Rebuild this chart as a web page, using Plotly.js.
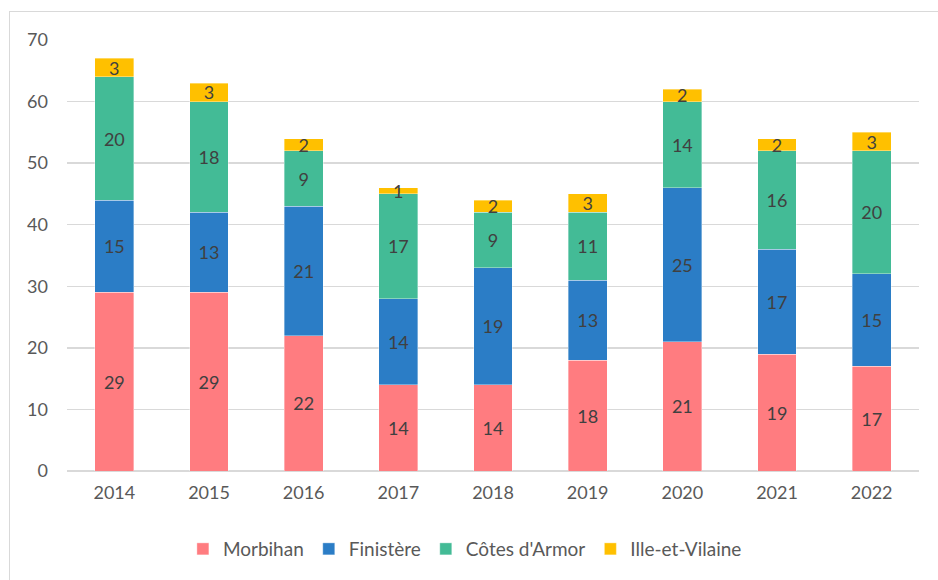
<!DOCTYPE html>
<html>
<head>
<meta charset="utf-8">
<script src="https://cdn.plot.ly/plotly-3.0.1.min.js"></script>
<style>
  html, body { margin: 0; padding: 0; background: #fff; }
  #frame { position: absolute; left: 9px; top: 11px; width: 940px; height: 590px; border: 1.5px solid #d9d9d9; box-sizing: border-box; }
  #chart { position: absolute; left: 0; top: 0; width: 938px; height: 580px; }
</style>
</head>
<body>
<div id="frame"></div>
<div id="chart"></div>
<script>
const years = ['2014', '2015', '2016', '2017', '2018', '2019', '2020', '2021', '2022'];
const morbihan = [29, 29, 22, 14, 14, 18, 21, 19, 17];
const finistere = [15, 13, 21, 14, 19, 13, 25, 17, 15];
const cotesArmor = [20, 18, 9, 17, 9, 11, 14, 16, 20];
const illeVilaine = [3, 3, 2, 1, 2, 3, 2, 2, 3];
const yTicks = [0, 10, 20, 30, 40, 50, 60, 70];

const seriesDefs = [
  { name: 'Morbihan', values: morbihan, color: '#FF7C80' },
  { name: 'Finistère', values: finistere, color: '#2B7DC6' },
  { name: "Côtes d'Armor", values: cotesArmor, color: '#43BB96' },
  { name: 'Ille-et-Vilaine', values: illeVilaine, color: '#FFC000' }
];

const FONT = 'Lato, "Open Sans", sans-serif';

const traces = seriesDefs.map(s => ({
  type: 'bar',
  name: s.name,
  x: years,
  y: s.values,
  text: s.values.map(String),
  textposition: 'inside',
  insidetextanchor: 'middle',
  textangle: 0,
  constraintext: 'none',
  textfont: { family: FONT, size: 18, color: '#404040' },
  marker: { color: s.color, line: { color: 'rgba(255,255,255,0.6)', width: 0.6 } },
  hoverinfo: 'skip'
}));

const layout = {
  width: 938,
  height: 580,
  barmode: 'stack',
  bargap: 0.59,
  paper_bgcolor: 'rgba(0,0,0,0)',
  plot_bgcolor: 'rgba(0,0,0,0)',
  margin: { l: 67, r: 19, t: 40, b: 109 },
  font: { family: FONT, size: 18, color: '#595959' },
  showlegend: true,
  legend: {
    orientation: 'h',
    x: 0.467, xanchor: 'center',
    y: -0.181, yanchor: 'middle',
    font: { size: 19, color: '#595959' },
    traceorder: 'normal',
    itemwidth: 30
  },
  uniformtext: { mode: 'show', minsize: 18 },
  xaxis: {
    type: 'category',
    tickfont: { size: 18, color: '#595959' },
    showgrid: false,
    showline: false,
    ticks: '',
    ticklabelstandoff: 9
  },
  yaxis: {
    range: [0, 70],
    tickvals: yTicks,
    ticktext: yTicks.map(String),
    tickfont: { size: 18, color: '#595959' },
    gridcolor: '#d9d9d9',
    gridwidth: 1.3,
    zeroline: true,
    zerolinecolor: '#d9d9d9',
    zerolinewidth: 1.5,
    showline: false,
    ticks: '',
    ticklabelstandoff: 18
  }
};

Plotly.newPlot('chart', traces, layout, { displayModeBar: false, staticPlot: true });
</script>
</body>
</html>
